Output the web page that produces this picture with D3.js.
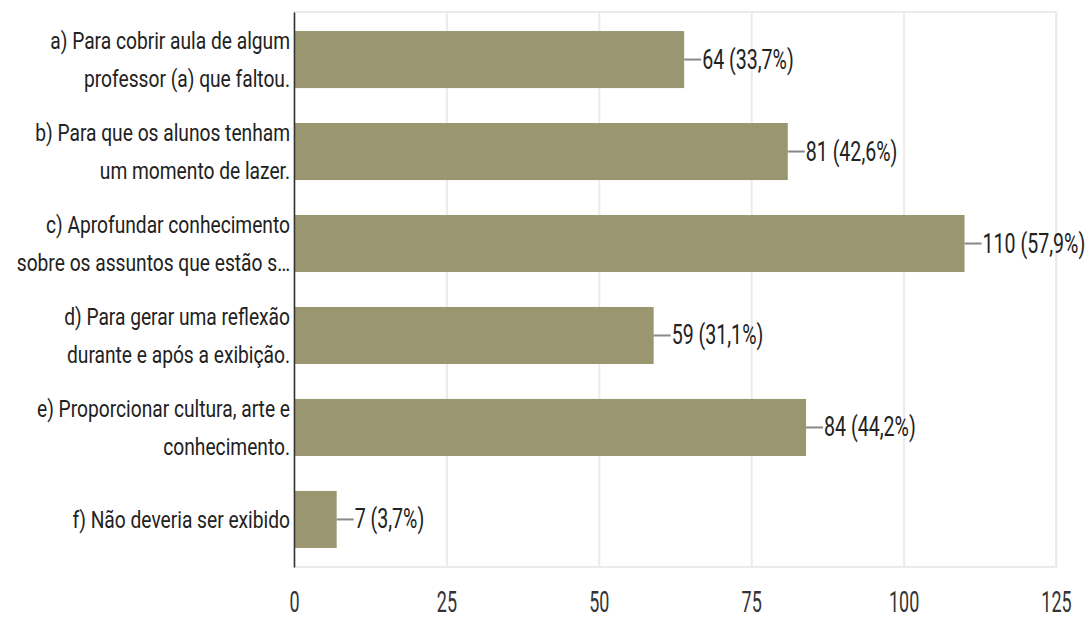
<!DOCTYPE html>
<html>
<head>
<meta charset="utf-8">
<script src="https://cdn.jsdelivr.net/npm/d3@7"></script>
<style>
  body { margin: 0; background: #fff; }
  text { font-family: Roboto, "Liberation Sans", Arial, sans-serif; fill: #222; }
</style>
</head>
<body>
<svg id="chart" width="1089" height="618"></svg>
<script>
// Answer options (one key per bar) and their wrapped label lines
const categories = ["a", "b", "c", "d", "e", "f"];
const labelLines = [
  ["a) Para cobrir aula de algum", "professor (a) que faltou."],
  ["b) Para que os alunos tenham", "um momento de lazer."],
  ["c) Aprofundar conhecimento", "sobre os assuntos que estão s…"],
  ["d) Para gerar uma reflexão", "durante e após a exibição."],
  ["e) Proporcionar cultura, arte e", "conhecimento."],
  ["f) Não deveria ser exibido"]
];
// Number of responses and share of respondents
const counts = [64, 81, 110, 59, 84, 7];
const percents = [33.7, 42.6, 57.9, 31.1, 44.2, 3.7];
const xTicks = [0, 25, 50, 75, 100, 125];

const svg = d3.select("#chart");
const plotLeft = 294, plotRight = 1056, plotTop = 12, plotBottom = 567;

const x = d3.scaleLinear().domain([0, 125]).range([plotLeft, plotRight]);
const y = d3.scaleBand().domain(categories).range([plotTop, plotBottom])
  .paddingInner(0.38).paddingOuter(0.207);

// Frame around the plot area
svg.append("rect")
  .attr("x", plotLeft).attr("y", plotTop)
  .attr("width", plotRight - plotLeft).attr("height", plotBottom - plotTop)
  .attr("fill", "none").attr("stroke", "#ebebeb").attr("stroke-width", 2);

// Bottom axis with vertical gridlines
const xAxis = svg.append("g")
  .attr("transform", `translate(0,${plotBottom})`)
  .call(d3.axisBottom(x).tickValues(xTicks).tickSize(-(plotBottom - plotTop)).tickPadding(0));
xAxis.select(".domain").remove();
xAxis.selectAll(".tick line").attr("stroke", "#ebebeb").attr("stroke-width", 2);
xAxis.selectAll(".tick text")
  .attr("y", 0).attr("dy", null)
  .attr("transform", "translate(0,45) scale(0.62,1)")
  .style("font-size", "29px")
  .style("fill", "#333");

// Bars
svg.append("g").selectAll("rect")
  .data(categories)
  .join("rect")
  .attr("x", x(0))
  .attr("y", d => y(d))
  .attr("width", (d, i) => x(counts[i]) - x(0))
  .attr("height", y.bandwidth())
  .attr("fill", "#9a9670");

// Left axis line
const yAxis = svg.append("g")
  .attr("transform", `translate(${plotLeft},0)`)
  .call(d3.axisLeft(y).tickSize(0).tickFormat(""));
yAxis.select(".domain").attr("stroke", "#333").attr("stroke-width", 1.5);

// Category labels, right-aligned against the axis
const lineGap = 38;
categories.forEach((c, i) => {
  const cy = y(c) + y.bandwidth() / 2;
  const lines = labelLines[i];
  const first = cy - (lines.length - 1) * lineGap / 2 + 8.5;
  lines.forEach((t, j) => {
    svg.append("text")
      .attr("text-anchor", "end")
      .attr("transform", `translate(${plotLeft - 4},${first + j * lineGap}) scale(0.8,1)`)
      .style("font-size", "24px")
      .style("fill", "#222")
      .text(t);
  });
});

// Value labels with leader lines
const fmtPct = p => p.toFixed(1).replace(".", ",") + "%";
const vals = svg.append("g");
categories.forEach((c, i) => {
  const cy = y(c) + y.bandwidth() / 2;
  const xe = x(counts[i]);
  vals.append("line")
    .attr("x1", xe).attr("x2", xe + 17)
    .attr("y1", cy).attr("y2", cy)
    .attr("stroke", "#888").attr("stroke-width", 2);
  vals.append("text")
    .attr("transform", `translate(${xe + 18},${cy + 9}) scale(0.7,1)`)
    .style("font-size", "28px")
    .style("fill", "#222")
    .text(`${counts[i]} (${fmtPct(percents[i])})`);
});
</script>
</body>
</html>
